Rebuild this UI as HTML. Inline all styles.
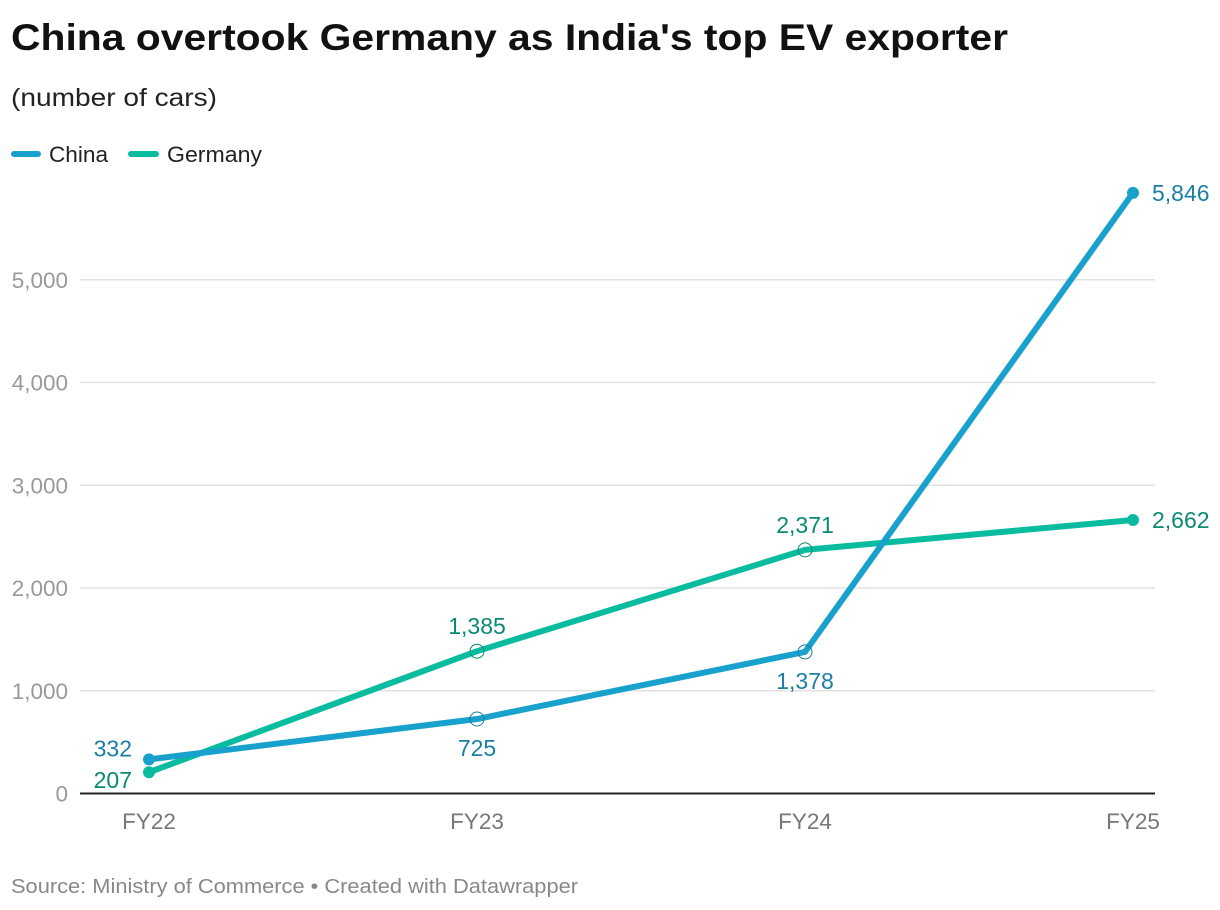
<!DOCTYPE html>
<html><head><meta charset="utf-8"><style>
html,body{margin:0;padding:0;background:#fff;}
svg{display:block;font-family:"Liberation Sans",sans-serif;}
</style></head><body>
<svg id="chart" width="1220" height="910" viewBox="0 0 1220 910">
<text x="11" y="50" font-size="37" font-weight="bold" fill="#111" textLength="997" lengthAdjust="spacingAndGlyphs">China overtook Germany as India's top EV exporter</text>
<text x="11" y="106" font-size="25" fill="#222" textLength="206" lengthAdjust="spacingAndGlyphs">(number of cars)</text>
<g>
<line x1="14" y1="154" x2="38" y2="154" stroke="#18a1cd" stroke-width="6" stroke-linecap="round"/>
<text x="49" y="162" font-size="22" fill="#222" textLength="59" lengthAdjust="spacingAndGlyphs">China</text>
<line x1="131" y1="154" x2="156" y2="154" stroke="#09bb9f" stroke-width="6" stroke-linecap="round"/>
<text x="167" y="162" font-size="22" fill="#222" textLength="95" lengthAdjust="spacingAndGlyphs">Germany</text>
</g>
<g id="grid"></g><g id="xaxis"></g><g id="lines"></g><g id="labels"></g>
<text x="11" y="893" font-size="20" fill="#888" textLength="567" lengthAdjust="spacingAndGlyphs">Source: Ministry of Commerce • Created with Datawrapper</text>
</svg>
<script>
const categories=["FY22","FY23","FY24","FY25"];
const china=[332,725,1378,5846];
const germany=[207,1385,2371,2662];
const yTicks=[0,1000,2000,3000,4000,5000];
const yTickLabels=["0","1,000","2,000","3,000","4,000","5,000"];
const NS="http://www.w3.org/2000/svg";
function x(i){return 149+i*(1133-149)/(categories.length-1);}
function y(v){return 793.5-v*0.10275;}
function fmt(v){return v.toLocaleString("en-US");}
function mk(tag,attrs,parent,txt){const e=document.createElementNS(NS,tag);for(const k in attrs)e.setAttribute(k,attrs[k]);if(txt!==undefined)e.textContent=txt;parent.appendChild(e);return e;}
const grid=document.getElementById("grid");
yTicks.forEach((t,i)=>{
 if(t>0){const l=mk("line",{x1:80,x2:1155,y1:y(t),y2:y(t),stroke:"#e2e2e2","stroke-width":1.5},grid);
 
 }
 const tx=mk("text",{x:68,y:y(t)+8,"font-size":22.5,fill:"#999","text-anchor":"end"},grid,yTickLabels[i]);
 
 
});
const xa=document.getElementById("xaxis");
const base=mk("line",{x1:80,x2:1155,y1:y(0),y2:y(0),stroke:"#222","stroke-width":2},xa);


categories.forEach((c,i)=>{
 const t=mk("text",{x:x(i),y:829,"font-size":22.5,fill:"#777","text-anchor":"middle"},xa,c);
 
 
});
const lines=document.getElementById("lines");
const labels=document.getElementById("labels");
function series(vals,color,lblColor,name,pos){
 const p=mk("polyline",{points:vals.map((v,i)=>x(i)+","+y(v)).join(" "),fill:"none",stroke:color,"stroke-width":6,"stroke-linejoin":"round","stroke-linecap":"round"},lines);
 
 
 vals.forEach((v,i)=>{
  const last=i===0||i===vals.length-1;
  const c=mk("circle",last?{cx:x(i),cy:y(v),r:6,fill:color}:{cx:x(i),cy:y(v),r:7,fill:"none",stroke:lblColor,"stroke-width":1},lines);
  
  
  let a={"font-size":23,fill:lblColor};
  if(i===0){a.x=x(i)-17;a.y=y(v)+(pos[i]<0?-3:16);a["text-anchor"]="end";}
  else if(i===vals.length-1){a.x=x(i)+19;a.y=y(v)+8;a["text-anchor"]="start";}
  else{a.x=x(i);a.y=y(v)+(pos[i]<0?-17:37);a["text-anchor"]="middle";}
  const t=mk("text",a,labels,fmt(v));
  
  
 });
}
series(germany,"#09bb9f","#0a8a74","germany",[1,-1,-1,0]);
series(china,"#18a1cd","#1a7fa3","china",[-1,1,1,0]);
</script>
</body></html>
